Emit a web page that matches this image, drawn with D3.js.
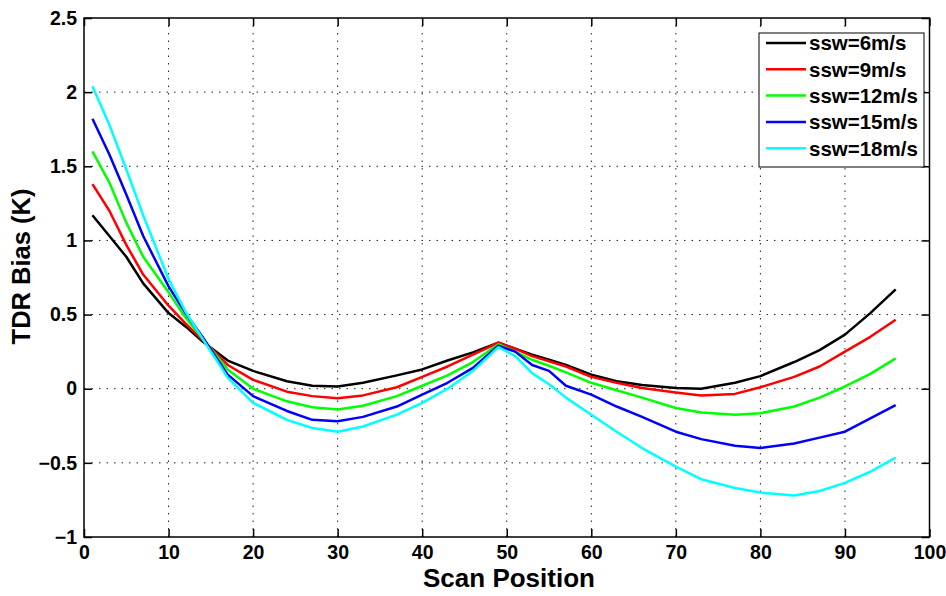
<!DOCTYPE html>
<html>
<head>
<meta charset="utf-8">
<script src="https://cdn.jsdelivr.net/npm/d3@7"></script>
<style>
  body { margin: 0; background: #fff; }
  text { font-family: "Liberation Sans", Arial, Helvetica, sans-serif; font-weight: bold; }
</style>
</head>
<body>
<div id="chart"></div>
<script>
// Data

var scanPos = [1, 3, 5, 7, 10, 12, 14, 17, 20, 24, 27, 30, 33, 37, 40, 43, 46, 49, 51, 53, 55, 57, 60, 63, 66, 70, 73, 77, 80, 84, 87, 90, 93, 96];

var ssw6 = [1.17, 1.03, 0.89, 0.71, 0.51, 0.42, 0.32, 0.19, 0.12, 0.05, 0.02, 0.015, 0.04, 0.09, 0.13, 0.19, 0.245, 0.31, 0.27, 0.23, 0.195, 0.16, 0.095, 0.05, 0.025, 0.005, 0.0, 0.04, 0.085, 0.18, 0.26, 0.365, 0.51, 0.67];
var ssw9 = [1.38, 1.20, 0.97, 0.77, 0.56, 0.44, 0.33, 0.16, 0.06, -0.02, -0.05, -0.065, -0.045, 0.01, 0.08, 0.15, 0.23, 0.31, 0.27, 0.22, 0.185, 0.15, 0.08, 0.04, 0.005, -0.025, -0.045, -0.035, 0.01, 0.08, 0.15, 0.25, 0.35, 0.465];
var ssw12 = [1.60, 1.39, 1.12, 0.89, 0.65, 0.48, 0.34, 0.13, 0.0, -0.085, -0.125, -0.14, -0.115, -0.05, 0.02, 0.09, 0.18, 0.30, 0.25, 0.195, 0.155, 0.11, 0.04, -0.01, -0.06, -0.13, -0.16, -0.175, -0.165, -0.12, -0.06, 0.015, 0.10, 0.205];
var ssw15 = [1.82, 1.58, 1.31, 1.03, 0.69, 0.51, 0.35, 0.095, -0.05, -0.15, -0.21, -0.22, -0.19, -0.12, -0.04, 0.04, 0.14, 0.29, 0.25, 0.16, 0.12, 0.02, -0.04, -0.12, -0.19, -0.29, -0.34, -0.385, -0.40, -0.37, -0.33, -0.29, -0.2, -0.11];
var ssw18 = [2.04, 1.78, 1.48, 1.17, 0.74, 0.52, 0.34, 0.075, -0.095, -0.21, -0.265, -0.29, -0.255, -0.175, -0.095, 0.0, 0.12, 0.28, 0.22, 0.105, 0.03, -0.06, -0.175, -0.29, -0.40, -0.525, -0.61, -0.67, -0.70, -0.72, -0.69, -0.635, -0.56, -0.465];

var seriesNames = ["ssw=6m/s", "ssw=9m/s", "ssw=12m/s", "ssw=15m/s", "ssw=18m/s"];
var seriesValues = [ssw6, ssw9, ssw12, ssw15, ssw18];
var seriesColors = ["#000000", "#ff0000", "#00ff00", "#0000ff", "#00ffff"];

var xTicks = [0, 10, 20, 30, 40, 50, 60, 70, 80, 90, 100];
var yTicks = [-1, -0.5, 0, 0.5, 1, 1.5, 2, 2.5];

// SVG Figure

var svgWidth = 946;
var svgHeight = 596;

var margin = { top: 18, left: 84, bottom: 59, right: 16.5 };
var width = svgWidth - margin.left - margin.right;
var height = svgHeight - margin.top - margin.bottom;

var svg = d3.select("#chart").append("svg")
	.attr("width", svgWidth)
	.attr("height", svgHeight);

var chartGroup = svg.append("g")
	.attr("transform", `translate(${margin.left}, ${margin.top})`);

var xScale = d3.scaleLinear().domain([0, 100]).range([0, width]);
var yScale = d3.scaleLinear().domain([-1, 2.5]).range([height, 0]);

// dotted grid
chartGroup.append("g").selectAll("line")
	.data(xTicks.slice(1, -1))
	.enter().append("line")
	.attr("x1", d => xScale(d)).attr("x2", d => xScale(d))
	.attr("y1", 0).attr("y2", height)
	.attr("stroke", "#222").attr("stroke-width", 1)
	.attr("stroke-dasharray", "1.5,6");

chartGroup.append("g").selectAll("line")
	.data(yTicks.slice(1, -1))
	.enter().append("line")
	.attr("x1", 0).attr("x2", width)
	.attr("y1", d => yScale(d)).attr("y2", d => yScale(d))
	.attr("stroke", "#222").attr("stroke-width", 1)
	.attr("stroke-dasharray", "1.5,6");

// axes, ticks pointing inward
var bottomAxis = d3.axisBottom(xScale).tickValues(xTicks).tickSizeInner(-8).tickSizeOuter(0).tickPadding(8);
var leftAxis = d3.axisLeft(yScale).tickValues(yTicks).tickSizeInner(-8).tickSizeOuter(0).tickPadding(7)
	.tickFormat(d => d3.format("")(d));
var topAxis = d3.axisTop(xScale).tickValues(xTicks).tickSizeInner(-8).tickSizeOuter(0).tickFormat("");
var rightAxis = d3.axisRight(yScale).tickValues(yTicks).tickSizeInner(-8).tickSizeOuter(0).tickFormat("");

var xAxis = chartGroup.append("g")
	.attr("transform", `translate(0, ${height})`)
	.call(bottomAxis);
var yAxis = chartGroup.append("g").call(leftAxis);
chartGroup.append("g").call(topAxis);
chartGroup.append("g").attr("transform", `translate(${width}, 0)`).call(rightAxis);

chartGroup.selectAll(".domain").remove();
chartGroup.selectAll(".tick line").attr("stroke", "#000").attr("stroke-width", 1.5);
chartGroup.selectAll(".tick text").attr("fill", "#000").attr("font-size", 19.5)
	.attr("font-family", null);

// box
chartGroup.append("rect")
	.attr("width", width).attr("height", height)
	.attr("fill", "none").attr("stroke", "#000").attr("stroke-width", 1.5);

// curves
var line = d3.line()
	.x((d, i) => xScale(scanPos[i]))
	.y(d => yScale(d));

chartGroup.selectAll(".series")
	.data(seriesValues)
	.enter().append("path")
	.attr("class", "series")
	.attr("d", d => line(d))
	.attr("fill", "none")
	.attr("stroke", (d, i) => seriesColors[i])
	.attr("stroke-width", 2.5)
	.attr("stroke-linejoin", "round");

// axis labels
svg.append("text")
	.attr("x", 509)
	.attr("y", 587)
	.attr("text-anchor", "middle")
	.attr("font-size", 26)
	.text("Scan Position");

svg.append("text")
	.attr("transform", `translate(30, ${margin.top + height / 2 - 11}) rotate(-90)`)
	.attr("text-anchor", "middle")
	.attr("font-size", 25.5)
	.text("TDR Bias (K)");

// legend
var legend = svg.append("g").attr("transform", "translate(759, 33)");

legend.append("rect")
	.attr("width", 165).attr("height", 134)
	.attr("fill", "#fff").attr("stroke", "#000").attr("stroke-width", 1);

var legendItems = legend.selectAll(".item")
	.data(seriesNames)
	.enter().append("g")
	.attr("class", "item")
	.attr("transform", (d, i) => `translate(0, ${10 + i * 26.3})`);

legendItems.append("line")
	.attr("x1", 7).attr("x2", 47)
	.attr("stroke", (d, i) => seriesColors[i])
	.attr("stroke-width", 2.5);

legendItems.append("text")
	.attr("x", 50)
	.attr("dy", "0.36em")
	.attr("font-size", 20.5)
	.text(d => d);
</script>
</body>
</html>
